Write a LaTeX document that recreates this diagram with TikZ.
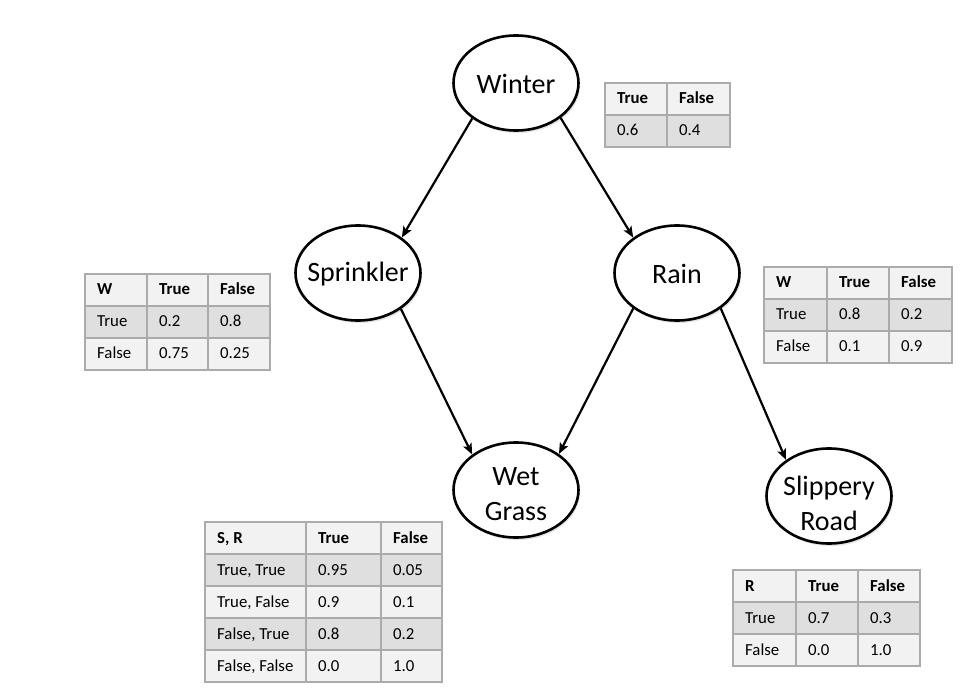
\documentclass[tikz,border=0pt]{standalone}
\usepackage{fontspec}
\setmainfont{Carlito}
\usetikzlibrary{shapes.geometric,arrows.meta,shadows}
\definecolor{hdrfill}{HTML}{F2F2F2}
\definecolor{darkfill}{HTML}{DFDFDF}
\definecolor{lightfill}{HTML}{F2F2F2}
\definecolor{cellgray}{HTML}{ABABAB}
\tikzset{
  bnode/.style={ellipse, draw=black, line width=2.6pt, fill=white,
    minimum width=125pt, minimum height=95pt, inner sep=0pt,
    drop shadow={opacity=0.22, shadow xshift=1.5pt, shadow yshift=-2.5pt}},
  bnodetext/.style={inner sep=0pt, align=center,
    font=\fontsize{28}{35}\selectfont},
  edgearrow/.style={line width=2.2pt, -{Stealth[length=11pt,width=9pt,inset=2.5pt]}},
  cellline/.style={draw=cellgray, line width=1.8pt},
  celltext/.style={anchor=base west, inner sep=0pt, font=\fontsize{16.8}{20}\selectfont},
}
% 3-column row: x0 x1 x2 x3 y fill t1 t2 t3
\newcommand{\cptrowiii}[9]{%
  \draw[cellline, fill=#6] (#1,#5) rectangle (#2,#5+32);
  \draw[cellline, fill=#6] (#2,#5) rectangle (#3,#5+32);
  \draw[cellline, fill=#6] (#3,#5) rectangle (#4,#5+32);
  \node[celltext] (c#1-#5) at (#1+12,#5+21) {#7};
  \node[celltext] (c#2-#5) at (#2+12,#5+21) {#8};
  \node[celltext] (c#3-#5) at (#3+12,#5+21) {#9};
}
% 2-column row: x0 x1 x2 y fill t1 t2
\newcommand{\cptrowii}[7]{%
  \draw[cellline, fill=#5] (#1,#4) rectangle (#2,#4+32);
  \draw[cellline, fill=#5] (#2,#4) rectangle (#3,#4+32);
  \node[celltext] (c#1-#4) at (#1+12,#4+21) {#6};
  \node[celltext] (c#2-#4) at (#2+12,#4+21) {#7};
}
\begin{document}
\begin{tikzpicture}[x=1pt, y=-1pt]
\useasboundingbox[fill=white] (0,0) rectangle (969,700);

% Bayesian network nodes
\node[bnode] (winter) at (516,83) {};
\node[bnode] (sprinkler) at (358,273) {};
\node[bnode] (rain) at (677,273) {};
\node[bnode] (wet) at (516,490) {};
\node[bnode] (slip) at (829,496) {};
\node[bnodetext] (wintertxt) at ([yshift=-1pt]winter.center) {Winter};
\node[bnodetext] (sprinklertxt) at ([yshift=-1pt]sprinkler.center) {Sprinkler};
\node[bnodetext] (raintxt) at ([yshift=-1pt]rain.center) {Rain};
\node[bnodetext] (wettxt) at ([yshift=-4pt]wet.center) {Wet\\Grass};
\node[bnodetext] (sliptxt) at ([yshift=-7pt]slip.center) {Slippery\\Road};

% Edges
\draw[edgearrow] (winter.219) -- (sprinkler.39);
\draw[edgearrow] (winter.322) -- (rain.141);
\draw[edgearrow] (sprinkler.320) -- (wet.141);
\draw[edgearrow] (rain.219) -- (wet.40);
\draw[edgearrow] (rain.321) -- (slip.140);

% CPT Winter
\cptrowii{605}{667}{730}{83}{hdrfill}{\textbf{True}}{\textbf{False}}
\cptrowii{605}{667}{730}{115}{darkfill}{0.6}{0.4}

% CPT Sprinkler
\cptrowiii{85}{147}{208}{270}{274}{hdrfill}{\textbf{W}}{\textbf{True}}{\textbf{False}}
\cptrowiii{85}{147}{208}{270}{306}{darkfill}{True}{0.2}{0.8}
\cptrowiii{85}{147}{208}{270}{338}{lightfill}{False}{0.75}{0.25}

% CPT Rain
\cptrowiii{764}{827}{889}{952}{267}{hdrfill}{\textbf{W}}{\textbf{True}}{\textbf{False}}
\cptrowiii{764}{827}{889}{952}{299}{darkfill}{True}{0.8}{0.2}
\cptrowiii{764}{827}{889}{952}{331}{lightfill}{False}{0.1}{0.9}

% CPT Wet Grass
\cptrowiii{205}{306}{381}{442}{522}{hdrfill}{\textbf{S, R}}{\textbf{True}}{\textbf{False}}
\cptrowiii{205}{306}{381}{442}{554}{darkfill}{True, True}{0.95}{0.05}
\cptrowiii{205}{306}{381}{442}{586}{lightfill}{True, False}{0.9}{0.1}
\cptrowiii{205}{306}{381}{442}{618}{darkfill}{False, True}{0.8}{0.2}
\cptrowiii{205}{306}{381}{442}{650}{lightfill}{False, False}{0.0}{1.0}

% CPT Slippery Road
\cptrowiii{733}{796}{858}{920}{570}{hdrfill}{\textbf{R}}{\textbf{True}}{\textbf{False}}
\cptrowiii{733}{796}{858}{920}{602}{darkfill}{True}{0.7}{0.3}
\cptrowiii{733}{796}{858}{920}{634}{lightfill}{False}{0.0}{1.0}
\end{tikzpicture}
\end{document}
